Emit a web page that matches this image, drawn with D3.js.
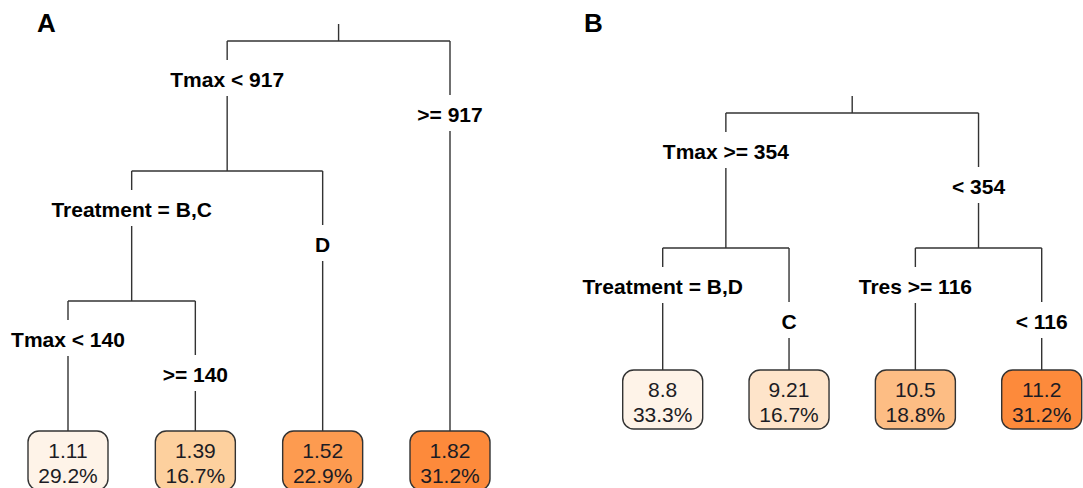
<!DOCTYPE html>
<html><head><meta charset="utf-8">
<script src="https://cdn.jsdelivr.net/npm/d3@7"></script>
<style>body{margin:0;background:#fff} svg{display:block}</style>
</head><body><svg id="c" width="1083" height="488"></svg>
<script>
// ---------- Data ----------
// Panel A
const leafValuesA = [1.11, 1.39, 1.52, 1.82];
const leafPctA = [29.2, 16.7, 22.9, 31.2];
const splitLabelsA = [["Tmax < 917", ">= 917"], ["Treatment = B,C", "D"], ["Tmax < 140", ">= 140"]];
// topology: s = split index, l = leaf index
const treeA = {s: 0, c: [{s: 1, c: [{s: 2, c: [{l: 0}, {l: 1}]}, {l: 2}]}, {l: 3}]};

// Panel B
const leafValuesB = [8.8, 9.21, 10.5, 11.2];
const leafPctB = [33.3, 16.7, 18.8, 31.2];
const splitLabelsB = [["Tmax >= 354", "< 354"], ["Treatment = B,D", "C"], ["Tres >= 116", "< 116"]];
const treeB = {s: 0, c: [{s: 1, c: [{l: 0}, {l: 1}]}, {s: 2, c: [{l: 2}, {l: 3}]}]};

// ---------- Styles ----------
const paletteA = ["#FEF3E8", "#FDD09E", "#FD9B50", "#FD8A3B"];
const paletteB = ["#FEF3E8", "#FEE4CA", "#FDBD84", "#FD8A3B"];
const lineColor = "#333";
const fontFam = "'Liberation Sans', Arial, sans-serif";

const svg = d3.select("#c");

function drawTree(cfg) {
  const g = svg.append("g");
  const root = d3.hierarchy(cfg.tree, d => d.c);
  const maxDepth = d3.max(root.leaves(), d => d.depth);
  const x = d3.scaleLinear().domain([0, cfg.values.length - 1]).range(cfg.xRange);
  const y = d3.scaleLinear().domain(cfg.yDomain).range(cfg.yRange);
  const color = d3.scaleOrdinal().domain(cfg.values).range(cfg.palette);

  // positions
  root.eachAfter(n => {
    if (n.data.l !== undefined) { n.px = x(n.data.l); n.py = y(maxDepth); }
    else { n.px = d3.mean(n.children, c => c.px); n.py = y(n.depth); }
  });

  const lines = g.append("g").attr("stroke", lineColor).attr("stroke-width", 1.4).attr("fill", "none");
  // root stem
  lines.append("line").attr("x1", root.px).attr("x2", root.px)
    .attr("y1", root.py - 17).attr("y2", root.py);
  const internals = root.descendants().filter(n => n.children);
  internals.forEach(n => {
    lines.append("line").attr("x1", n.children[0].px).attr("x2", n.children[1].px)
      .attr("y1", n.py).attr("y2", n.py);
    n.children.forEach(c => {
      lines.append("line").attr("x1", c.px).attr("x2", c.px).attr("y1", n.py).attr("y2", c.py);
    });
  });

  // split labels with white background
  const labels = g.append("g");
  internals.forEach(n => {
    const labs = cfg.splits[n.data.s];
    n.children.forEach((c, i) => {
      const by = n.py + (i === 0 ? 46 : 81);
      const t = labels.append("text").attr("x", c.px).attr("y", by)
        .attr("text-anchor", "middle").attr("font-family", fontFam)
        .attr("font-weight", "bold").attr("font-size", 21).attr("fill", "#000")
        .text(labs[i]);
      const w = t.node().getComputedTextLength();
      labels.insert("rect", "text").attr("x", c.px - w / 2 - 4).attr("y", by - 27)
        .attr("width", w + 8).attr("height", 36).attr("fill", "#fff");
    });
  });

  // leaf boxes
  const fmtPct = d3.format(".1f");
  root.leaves().forEach(n => {
    const v = cfg.values[n.data.l];
    g.append("rect").attr("x", n.px - 40).attr("y", n.py).attr("width", 80).attr("height", 59)
      .attr("rx", 11).attr("ry", 11).attr("fill", color(v)).attr("stroke", lineColor).attr("stroke-width", 1.4);
    g.append("text").attr("x", n.px).attr("y", n.py + 27).attr("text-anchor", "middle")
      .attr("font-family", fontFam).attr("font-size", 21).attr("fill", "#1c1c24").text(String(v));
    g.append("text").attr("x", n.px).attr("y", n.py + 52).attr("text-anchor", "middle")
      .attr("font-family", fontFam).attr("font-size", 21).attr("fill", "#1c1c24")
      .text(fmtPct(cfg.pct[n.data.l]) + "%");
  });

  svg.append("text").attr("x", cfg.letterX).attr("y", 32).attr("font-family", fontFam)
    .attr("font-weight", "bold").attr("font-size", 26).attr("fill", "#000").text(cfg.letter);
}

drawTree({tree: treeA, values: leafValuesA, pct: leafPctA, splits: splitLabelsA, palette: paletteA,
  xRange: [68, 450], yDomain: [0, 3], yRange: [41, 431], letter: "A", letterX: 37});
drawTree({tree: treeB, values: leafValuesB, pct: leafPctB, splits: splitLabelsB, palette: paletteB,
  xRange: [662.7, 1041.7], yDomain: [0, 1, 2], yRange: [113, 248, 370], letter: "B", letterX: 584});
</script></body></html>
